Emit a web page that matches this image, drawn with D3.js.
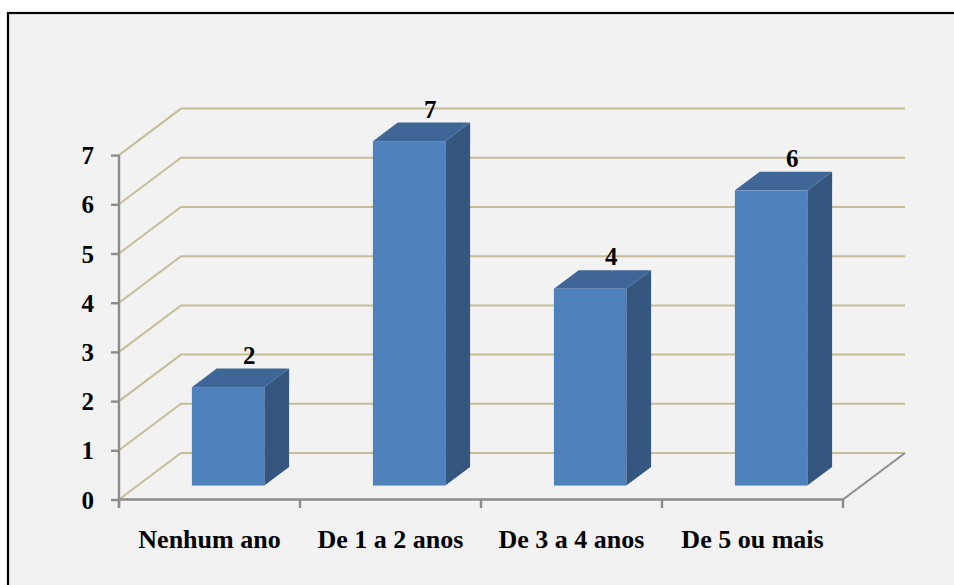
<!DOCTYPE html>
<html>
<head>
<meta charset="utf-8">
<script src="https://cdn.jsdelivr.net/npm/d3@7"></script>
<style>
  html, body { margin: 0; padding: 0; background: #ffffff; }
  svg { display: block; }
</style>
</head>
<body>
<svg id="chart" width="954" height="585"></svg>
<script>
// Respondents by years of experience
const categories = ["Nenhum ano", "De 1 a 2 anos", "De 3 a 4 anos", "De 5 ou mais"];
const values = [2, 7, 4, 6];
const yTicks = [0, 1, 2, 3, 4, 5, 6, 7];

const W = 954, H = 585;
const FONT = "'Liberation Serif', 'Times New Roman', Times, serif";
const svg = d3.select("#chart");

// plot geometry (front plane of the 3D box)
const plot = { left: 119, right: 843, base: 499.5, top: 155.1 };
const depth = { dx: 62, dy: -46.5 };   // full depth of the box
const barFront = 0.30, barBack = 0.70; // bar position inside the depth
const barWidthRatio = 0.40;

const x = d3.scaleBand().domain(categories).range([plot.left, plot.right]).paddingInner(0).paddingOuter(0);
const y = d3.scaleLinear().domain([0, 7]).range([plot.base, plot.top]);

const colors = {
  grid: "#c4bd97",
  axis: "#8c8c8c",
  front: "#4f81bd",
  top: "#3e6696",
  side: "#34567f",
  panel: "#f2f2f2"
};

// outer frame
svg.append("rect")
  .attr("x", 8).attr("y", 13)
  .attr("width", W + 20).attr("height", H + 20)
  .attr("fill", colors.panel)
  .attr("stroke", "#000").attr("stroke-width", 2.2);

const p = (px, py, f) => [px + depth.dx * f, py + depth.dy * f];

// back wall + side wall gridlines
const grid = svg.append("g").attr("fill", "none").attr("stroke", colors.grid).attr("stroke-width", 2);
yTicks.forEach(v => {
  const a = [plot.left, y(v)];
  const b = p(plot.left, y(v), 1);
  const c = p(plot.right, y(v), 1);
  grid.append("path").attr("d", d3.line()([a, b, c]));
});

// floor right edge
svg.append("path")
  .attr("d", d3.line()([[plot.right, plot.base], p(plot.right, plot.base, 1)]))
  .attr("fill", "none").attr("stroke", colors.axis).attr("stroke-width", 2);

// y axis
const yAxis = d3.axisLeft(y).tickValues(yTicks).tickFormat(d3.format("d")).tickSizeInner(8).tickSizeOuter(0).tickPadding(17);
const gy = svg.append("g").attr("transform", `translate(${plot.left},0)`).call(yAxis)
  .attr("font-family", FONT).attr("font-size", 24);
gy.select(".domain").attr("stroke", colors.axis).attr("stroke-width", 2.4)
  .attr("d", `M0,${y(7)}V${plot.base + 8}`);
gy.selectAll(".tick line").attr("stroke", colors.axis).attr("stroke-width", 2.4);
gy.selectAll(".tick text")
  .attr("font-family", FONT).attr("font-size", 25).attr("font-weight", "bold")
  .attr("fill", "#000").attr("dy", "0.34em");

// x axis line, tick marks at category boundaries, labels at centres
const gx = svg.append("g");
gx.append("path")
  .attr("d", `M${plot.left},${plot.base}H${plot.right}`)
  .attr("stroke", colors.axis).attr("stroke-width", 2.6);
const bounds = categories.map(c => x(c)).concat([x(categories[categories.length - 1]) + x.bandwidth()]);
gx.selectAll("line.tick").data(bounds).join("line")
  .attr("x1", d => d).attr("x2", d => d)
  .attr("y1", plot.base).attr("y2", plot.base + 8.5)
  .attr("stroke", colors.axis).attr("stroke-width", 2.4);
gx.selectAll("text.cat").data(categories).join("text")
  .attr("class", "cat")
  .attr("x", d => x(d) + x.bandwidth() / 2)
  .attr("y", 548)
  .attr("text-anchor", "middle")
  .attr("font-family", FONT).attr("font-weight", "bold")
  .attr("font-size", 26)
  .text(d => d);

// bars
const data = categories.map((c, i) => ({ cat: c, value: values[i] }));
const bw = x.bandwidth() * barWidthRatio;
const bars = svg.append("g");
data.forEach(d => {
  const cx = x(d.cat) + x.bandwidth() / 2;
  const l = cx - bw / 2, r = cx + bw / 2;
  const yt = y(d.value), yb = y(0);
  const g = bars.append("g");
  // side face
  g.append("path")
    .attr("d", d3.line()([p(r, yb, barFront), p(r, yb, barBack), p(r, yt, barBack), p(r, yt, barFront)]) + "Z")
    .attr("fill", colors.side);
  // top face
  g.append("path")
    .attr("d", d3.line()([p(l, yt, barFront), p(l, yt, barBack), p(r, yt, barBack), p(r, yt, barFront)]) + "Z")
    .attr("fill", colors.top);
  // front face
  const f0 = p(l, yt, barFront), f1 = p(r, yb, barFront);
  g.append("rect")
    .attr("x", f0[0]).attr("y", f0[1])
    .attr("width", f1[0] - f0[0]).attr("height", f1[1] - f0[1])
    .attr("fill", colors.front);
  // value label
  const lp = p(cx, yt, 0.64);
  g.append("text")
    .attr("x", lp[0]).attr("y", p(cx, yt, barBack)[1] - 5)
    .attr("text-anchor", "middle")
    .attr("font-family", FONT).attr("font-weight", "bold")
    .attr("font-size", 25)
    .text(d.value);
});
</script>
</body>
</html>
